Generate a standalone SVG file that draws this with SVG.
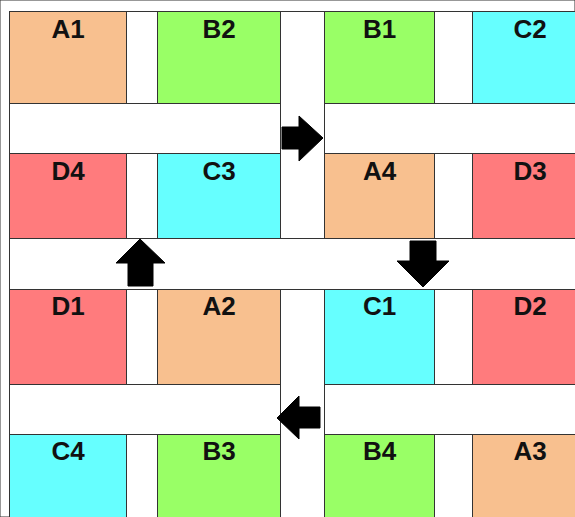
<svg xmlns="http://www.w3.org/2000/svg" width="575" height="517" viewBox="0 0 575 517">
<style>
rect{stroke:#333;stroke-width:1}
.bg{fill:#fff}
.a{fill:#F8C08F}
.b{fill:#99FF66}
.c{fill:#66FFFF}
.d{fill:#FF7B7D}
text{font-family:"Liberation Sans",Arial,sans-serif;font-weight:bold;font-size:26px;text-anchor:middle;fill:#111}
.arr{fill:#000;stroke:#000;stroke-width:1}
</style>
<rect width="575" height="517" fill="#fff" stroke="none"/>
<rect class="bg" x="9.5" y="11.5" width="580" height="520"/>
<g id="roads">
<rect class="bg" x="9.5" y="103.5" width="580" height="50"/>
<rect class="bg" x="9.5" y="238.5" width="580" height="51"/>
<rect class="bg" x="9.5" y="384.5" width="580" height="50"/>
<rect class="bg" x="280.5" y="11.5" width="44" height="227"/>
<rect class="bg" x="280.5" y="289.5" width="44" height="240"/>
</g>
<g id="A1"><rect class="a" x="9.5" y="11.5" width="117" height="92"/><text x="68" y="38">A1</text></g>
<g id="B2"><rect class="b" x="157.5" y="11.5" width="123" height="92"/><text x="219" y="38">B2</text></g>
<g id="B1"><rect class="b" x="324.5" y="11.5" width="110" height="92"/><text x="379.5" y="38">B1</text></g>
<g id="C2"><rect class="c" x="472.5" y="11.5" width="117" height="92"/><text x="530" y="38">C2</text></g>
<g id="D4"><rect class="d" x="9.5" y="153.5" width="117" height="85"/><text x="68" y="180">D4</text></g>
<g id="C3"><rect class="c" x="157.5" y="153.5" width="123" height="85"/><text x="219" y="180">C3</text></g>
<g id="A4"><rect class="a" x="324.5" y="153.5" width="110" height="85"/><text x="379.5" y="180">A4</text></g>
<g id="D3"><rect class="d" x="472.5" y="153.5" width="117" height="85"/><text x="530" y="180">D3</text></g>
<g id="D1"><rect class="d" x="9.5" y="289.5" width="117" height="95"/><text x="68" y="315">D1</text></g>
<g id="A2"><rect class="a" x="157.5" y="289.5" width="123" height="95"/><text x="219" y="315">A2</text></g>
<g id="C1"><rect class="c" x="324.5" y="289.5" width="110" height="95"/><text x="379.5" y="315">C1</text></g>
<g id="D2"><rect class="d" x="472.5" y="289.5" width="117" height="95"/><text x="530" y="315">D2</text></g>
<g id="C4"><rect class="c" x="9.5" y="434.5" width="117" height="95"/><text x="68" y="460">C4</text></g>
<g id="B3"><rect class="b" x="157.5" y="434.5" width="123" height="95"/><text x="219" y="460">B3</text></g>
<g id="B4"><rect class="b" x="324.5" y="434.5" width="110" height="95"/><text x="379.5" y="460">B4</text></g>
<g id="A3"><rect class="a" x="472.5" y="434.5" width="117" height="95"/><text x="530" y="460">A3</text></g>
<g id="connectors">
<polygon class="arr" points="282,127 299,127 299,116 323,138 299,161 299,149 282,149"/>
<polygon class="arr" points="410,241 436,241 436,261 449,261 423,287 397,261 410,261"/>
<polygon class="arr" points="128,286 128,263 116,263 140,239 165,263 153,263 153,286"/>
<polygon class="arr" points="320,407 299,407 299,396 277,418 299,439 299,428 320,428"/>
</g>
</svg>
